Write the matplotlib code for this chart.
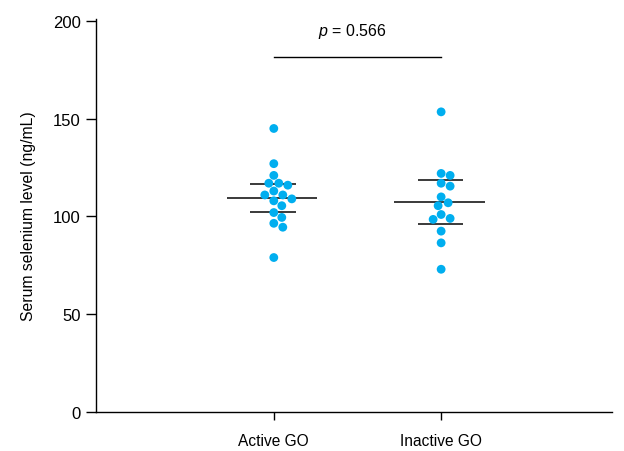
import matplotlib
matplotlib.use("Agg")
import matplotlib.pyplot as plt
import numpy as np

plt.rcParams["font.family"] = ["Liberation Sans", "DejaVu Sans"]
plt.rcParams["mathtext.fontset"] = "custom"
plt.rcParams["mathtext.it"] = "Liberation Sans:italic"
plt.rcParams["mathtext.rm"] = "Liberation Sans"

groups = ["Active GO", "Inactive GO"]
active = [145, 127, 121, 116, 117, 117, 113, 111, 111, 108, 109, 105.5, 102, 99.5, 96.5, 94.5, 79]
inactive = [153.5, 121, 122, 115.5, 117, 110, 107, 105.5, 101, 98.5, 99, 92.5, 86.5, 73]
means = [109.5, 107.3]
upper = [116.8, 118.4]
lower = [102.4, 96.3]
p_text = "0.566"

dot_color = "#00AEEF"
line_color = "#2b2b2b"


def swarm(ax, xc, values, diam_px):
    # simple beeswarm in pixel space
    placed = []
    order = np.argsort(values)[::-1]
    xs = np.zeros(len(values))
    for i in order:
        px, py = ax.transData.transform((xc, values[i]))
        best = None
        for k in range(0, 60):
            for sgn in ([1] if k == 0 else [1, -1]):
                cx = px + sgn * k * 1.0
                ok = all((cx - qx) ** 2 + (py - qy) ** 2 >= diam_px ** 2 for qx, qy in placed)
                if ok:
                    best = cx
                    break
            if best is not None:
                break
        placed.append((best, py))
        xs[i] = ax.transData.inverted().transform((best, py))[0]
    return xs


fig = plt.figure(figsize=(6.24, 4.52), dpi=100)
ax = fig.add_axes([0.154, 0.0863, 0.827, 0.8695])
ax.set_xlim(-0.062, 3.022)
ax.set_ylim(0, 201)

diam = 8.8
for i, vals in enumerate([active, inactive]):
    xc = i + 1
    xs = swarm(ax, xc, vals, diam + 0.3)
    ax.scatter(xs, vals, s=(diam * 72 / 100) ** 2, color=dot_color, edgecolors="none", zorder=3)
    ax.hlines(means[i], xc - 0.28, xc + 0.26, color=line_color, lw=1.3, zorder=2)
    ax.hlines([upper[i], lower[i]], xc - 0.14, xc + 0.13, color=line_color, lw=1.3, zorder=2)

ax.plot([1, 2], [181.5, 181.5], color="black", lw=1)
ax.text(1.47, 195, r"$p$ = " + p_text, ha="center", va="center", fontsize=11.5)

ax.set_xticks([1, 2])
ax.set_xticklabels(groups, fontsize=11.2)
ax.set_yticks([0, 50, 100, 150, 200])
ax.tick_params(axis="y", length=7, width=1, labelsize=12, pad=4)
ax.tick_params(axis="x", length=6, width=1, pad=9)
ax.set_ylabel("Serum selenium level (ng/mL)", fontsize=11.3, labelpad=12)
for s in ["top", "right"]:
    ax.spines[s].set_visible(False)
for s in ["left", "bottom"]:
    ax.spines[s].set_linewidth(1)

fig.savefig("out.png", dpi=100)
